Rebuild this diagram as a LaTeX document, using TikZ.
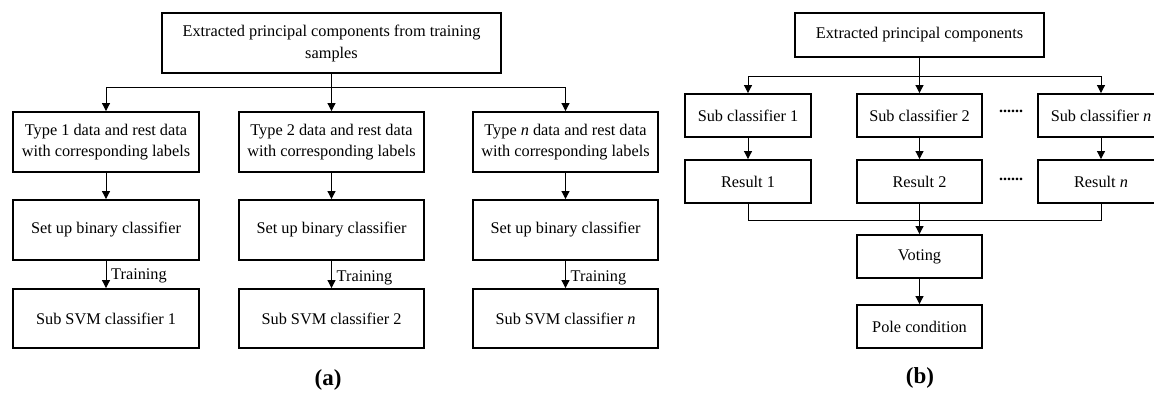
\documentclass[tikz,border=0pt]{standalone}
\usepackage{fontspec}
\setmainfont{Liberation Serif}
\usetikzlibrary{arrows.meta}
\tikzset{
  box/.style={draw=black, line width=1.9pt, inner sep=0pt, align=center,
    font=\fontsize{16.3}{21}\selectfont},
  boxa/.style={box, minimum width=186pt, minimum height=60pt},
  boxb/.style={box, minimum width=126pt, minimum height=43pt},
  conn/.style={line width=1pt},
  arr/.style={conn, -{Triangle[length=8pt,width=8pt]}},
  lbl/.style={font=\fontsize{16.3}{20}\selectfont, inner sep=0pt, anchor=base west},
  dotstext/.style={font=\fontsize{16}{20}\selectfont\bfseries, inner sep=0pt},
  captext/.style={font=\fontsize{23}{26}\selectfont\bfseries, inner sep=0pt}
}
\begin{document}
\begin{tikzpicture}[x=1pt,y=-1pt]
\useasboundingbox (0,0) rectangle (1154,392);
\clip (0,0) rectangle (1154,392);
% ---------- (a) ----------
\node[box, minimum width=339pt, minimum height=60pt] (top) at (331.5,43)
  {Extracted principal components from training\\[1pt]samples};
\node[boxa] (t1) at (106,142) {Type 1 data and rest data\\with corresponding labels};
\node[boxa, minimum width=185pt] (t2) at (331.5,142) {Type 2 data and rest data\\with corresponding labels};
\node[boxa, minimum width=185pt] (t3) at (565.5,142) {Type \textit{n} data and rest data\\with corresponding labels};
\node[boxa] (s1) at (106,230) {Set up binary classifier};
\node[boxa, minimum width=185pt] (s2) at (331.5,230) {Set up binary classifier};
\node[boxa, minimum width=185pt] (s3) at (565.5,230) {Set up binary classifier};
\node[boxa, minimum height=59pt] (v1) at (106,318.5) {Sub SVM classifier 1};
\node[boxa, minimum width=185pt, minimum height=59pt] (v2) at (331.5,318.5) {Sub SVM classifier 2};
\node[boxa, minimum width=185pt, minimum height=59pt] (v3) at (565.5,318.5) {Sub SVM classifier \textit{n}};
\coordinate (ja) at (331.5,87);
\draw[conn] (top.south) -- (ja);
\draw[arr] (ja) -| (t1.north);
\draw[arr] (ja) -- (t2.north);
\draw[arr] (ja) -| (t3.north);
\draw[arr] (t1) -- (s1);
\draw[arr] (t2) -- (s2);
\draw[arr] (t3) -- (s3);
\draw[arr] (s1) -- (v1);
\draw[arr] (s2) -- (v2);
\draw[arr] (s3) -- (v3);
\node[lbl] (tr1) at (111,279) {Training};
\node[lbl] (tr2) at (336.5,281) {Training};
\node[lbl] (tr3) at (570.5,281) {Training};
\node[captext] (capa) at (328,380) {(a)};
% ---------- (b) ----------
\node[box, minimum width=249pt, minimum height=44pt] (ex) at (919.5,35) {Extracted principal components};
\node[boxb] (c1) at (748,115.5) {Sub classifier 1};
\node[boxb, minimum width=125pt] (c2) at (919.5,115.5) {Sub classifier 2};
\node[boxb] (cn) at (1101,115.5) {Sub classifier \textit{n}};
\node[boxb] (r1) at (748,181.5) {Result 1};
\node[boxb, minimum width=125pt] (r2) at (919.5,181.5) {Result 2};
\node[boxb] (rn) at (1101,181.5) {Result \textit{n}};
\node[boxb, minimum width=125pt] (vo) at (919.5,256.5) {Voting};
\node[boxb, minimum width=125pt] (po) at (919.5,326.5) {Pole condition};
\node[dotstext] (d1) at (1011,111) {......};
\node[dotstext] (d2) at (1011,179) {......};
\coordinate (jb) at (919.5,76);
\coordinate (jm) at (919.5,220);
\draw[conn] (ex.south) -- (jb);
\draw[arr] (jb) -| (c1.north);
\draw[arr] (jb) -- (c2.north);
\draw[arr] (jb) -| (cn.north);
\draw[arr] (c1) -- (r1);
\draw[arr] (c2) -- (r2);
\draw[arr] (cn) -- (rn);
\draw[conn] (r1.south) |- (jm);
\draw[conn] (rn.south) |- (jm);
\draw[arr] (r2) -- (vo);
\draw[arr] (vo) -- (po);
\node[captext] (capb) at (920,378) {(b)};
\end{tikzpicture}
\end{document}
